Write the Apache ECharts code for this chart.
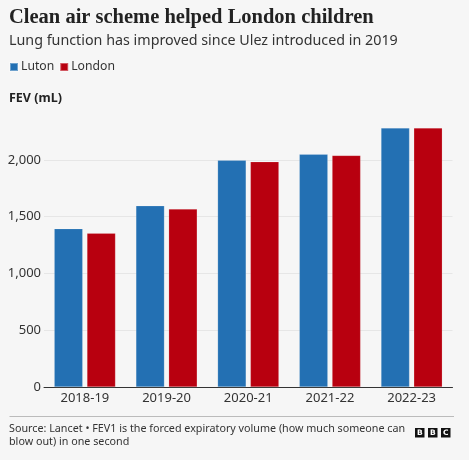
<!DOCTYPE html>
<html>
<head>
<meta charset="utf-8">
<script src="https://cdn.jsdelivr.net/npm/echarts@6/dist/echarts.min.js"></script>
<style>
html,body{margin:0;padding:0;background:#f6f6f6;}
#c{width:469px;height:460px;}
</style>
</head>
<body>
<div id="c"></div>
<script>
const categories = ['2018-19', '2019-20', '2020-21', '2021-22', '2022-23'];
const luton = [1395, 1597, 1997, 2050, 2282];
const london = [1355, 1568, 1985, 2040, 2282];
const seriesNames = ['Luton', 'London'];
const tickLabels = [0, 500, 1000, 1500, 2000];

const chart = echarts.init(document.getElementById('c'));
const sans = "'Noto Sans', 'Open Sans', sans-serif";
chart.setOption({
  backgroundColor: '#f6f6f6',
  animation: false,
  title: [
    { text: 'Clean air scheme helped London children', left: 9, top: 7, padding: 0,
      textStyle: { fontFamily: "'Liberation Serif', serif", fontWeight: 'bold', fontSize: 20.5, color: '#222' } },
    { text: 'Lung function has improved since Ulez introduced in 2019', left: 9, top: 34, padding: 0,
      textStyle: { fontFamily: sans, fontWeight: 'normal', fontSize: 14.3, color: '#333' } },
    { text: 'FEV (mL)', left: 9, top: 92, padding: 0,
      textStyle: { fontFamily: sans, fontWeight: 'bold', fontSize: 12.5, color: '#222' } },
    { text: 'Source: Lancet • FEV1 is the forced expiratory volume (how much someone can\nblow out) in one second', left: 9, top: 422, padding: 0,
      textStyle: { fontFamily: sans, fontWeight: 'normal', fontSize: 10.75, lineHeight: 13.5, color: '#333' } }
  ],
  legend: {
    left: 9, top: 61, padding: 0, itemWidth: 8, itemHeight: 8, itemGap: 5, icon: 'rect',
    data: seriesNames,
    textStyle: { fontFamily: sans, fontSize: 12.2, color: '#333', padding: [0, 0, 0, -2] }
  },
  grid: { left: 44, right: 16.5, top: 103.2, bottom: 73 },
  xAxis: {
    type: 'category', data: categories,
    axisLine: { lineStyle: { color: '#333', width: 1 } },
    axisTick: { show: false },
    axisLabel: { fontFamily: sans, fontSize: 13, color: '#333', margin: 5 }
  },
  yAxis: {
    type: 'value', min: 0, max: 2500, interval: 500,
    axisLine: { show: false }, axisTick: { show: false },
    axisLabel: { fontFamily: sans, fontSize: 13, color: '#333', margin: 3, showMaxLabel: false,
      formatter: v => tickLabels.includes(v) ? v.toLocaleString('en-GB') : '' },
    splitLine: { showMaxLine: false, lineStyle: { color: '#e6e6e6', width: 1 } }
  },
  series: [
    { name: 'Luton', type: 'bar', data: luton, barWidth: 28.5, barGap: '15%',
      itemStyle: { color: '#2370b3', borderColor: 'rgba(255,255,255,0.35)', borderWidth: 0.5 } },
    { name: 'London', type: 'bar', data: london, barWidth: 28.5, barGap: '15%',
      itemStyle: { color: '#b8000f', borderColor: 'rgba(255,255,255,0.35)', borderWidth: 0.5 } }
  ],
  graphic: [
    { type: 'line', shape: { x1: 9.5, y1: 416.5, x2: 454, y2: 416.5 }, style: { stroke: '#bbb', lineWidth: 1 } },
    { type: 'rect', shape: { x: 415, y: 428, width: 9.5, height: 9.5 }, style: { fill: '#111' } },
    { type: 'rect', shape: { x: 428, y: 428, width: 9.5, height: 9.5 }, style: { fill: '#111' } },
    { type: 'rect', shape: { x: 441, y: 428, width: 9.5, height: 9.5 }, style: { fill: '#111' } },
    { type: 'text', x: 419.75, y: 433, style: { text: 'B', fill: '#fff', font: "bold 7.5px 'DejaVu Sans'", align: 'center', verticalAlign: 'middle' } },
    { type: 'text', x: 432.75, y: 433, style: { text: 'B', fill: '#fff', font: "bold 7.5px 'DejaVu Sans'", align: 'center', verticalAlign: 'middle' } },
    { type: 'text', x: 445.75, y: 433, style: { text: 'C', fill: '#fff', font: "bold 7.5px 'DejaVu Sans'", align: 'center', verticalAlign: 'middle' } }
  ]
});
</script>
</body>
</html>
